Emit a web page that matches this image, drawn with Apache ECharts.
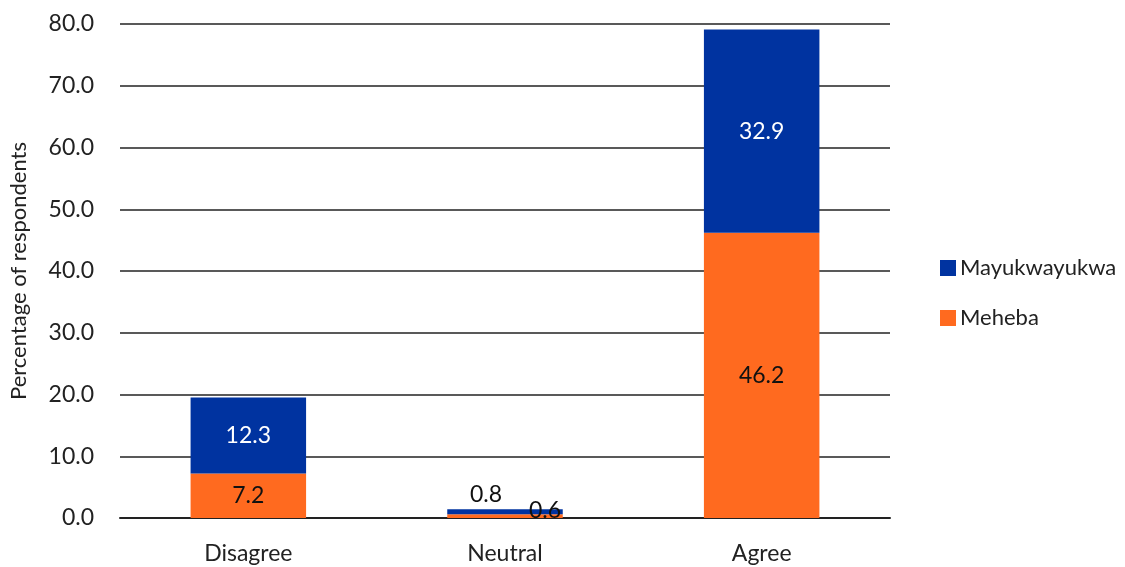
<!DOCTYPE html>
<html>
<head>
<meta charset="utf-8">
<script src="https://cdn.jsdelivr.net/npm/echarts@6/dist/echarts.min.js"></script>
<style>
  html, body { margin: 0; padding: 0; background: #fff; }
  #chart { width: 1125px; height: 567px; }
</style>
</head>
<body>
<div id="chart"></div>
<script>
// Survey responses by settlement (percentage of respondents)
const categories = ['Disagree', 'Neutral', 'Agree'];
const meheba = [7.2, 0.6, 46.2];
const mayukwayukwa = [12.3, 0.8, 32.9];
const yTicks = [0, 10, 20, 30, 40, 50, 60, 70, 80];

const FONT = 'Lato, "Open Sans", sans-serif';
const FS = 23;
const BLUE = '#0033a0';
const ORANGE = '#ff6a1f';

// Small segments get their labels moved outside the bar
const mehebaData = meheba.map(v => {
  const d = { value: v };
  if (v < 2) {
    d.label = { position: 'insideBottom', offset: [40, 9], color: '#111' };
  }
  return d;
});
const mayukData = mayukwayukwa.map(v => {
  const d = { value: v };
  if (v < 2) {
    d.label = { position: 'top', offset: [-19, 2], color: '#111' };
  }
  return d;
});

const chart = echarts.init(document.getElementById('chart'));
chart.setOption({
  animation: false,
  textStyle: { fontFamily: FONT },
  grid: { left: 120, right: 235, top: 24, bottom: 49, containLabel: false, outerBoundsMode: 'none' },
  legend: {
    orient: 'vertical',
    left: 935,
    top: 252,
    itemWidth: 16,
    itemHeight: 16,
    itemGap: 28,
    icon: 'rect',
    data: ['Mayukwayukwa', 'Meheba'],
    textStyle: { fontFamily: FONT, fontSize: 22, color: '#222', padding: [0, 0, 0, -1] }
  },
  xAxis: {
    type: 'category',
    data: categories,
    axisLine: { show: true, lineStyle: { color: '#222', width: 2 } },
    axisTick: { show: false },
    axisLabel: { fontFamily: FONT, fontSize: FS, color: '#222', margin: 24 }
  },
  yAxis: {
    type: 'value',
    min: yTicks[0],
    max: yTicks[yTicks.length - 1],
    interval: 10,
    name: 'Percentage of respondents',
    nameLocation: 'middle',
    nameGap: 90,
    nameTextStyle: { fontFamily: FONT, fontSize: 22, color: '#222' },
    axisLine: { show: false },
    axisTick: { show: false },
    axisLabel: {
      fontFamily: FONT, fontSize: FS, color: '#222', margin: 26,
      formatter: v => v.toFixed(1)
    },
    splitLine: { lineStyle: { color: '#222', width: 1.5 } }
  },
  series: [
    {
      name: 'Meheba',
      type: 'bar',
      stack: 'total',
      barWidth: '45%',
      itemStyle: { color: ORANGE },
      label: { show: true, position: 'inside', fontFamily: FONT, fontSize: FS, color: '#111',
               formatter: p => p.value.toFixed(1) },
      data: mehebaData
    },
    {
      name: 'Mayukwayukwa',
      type: 'bar',
      stack: 'total',
      barWidth: '45%',
      itemStyle: { color: BLUE },
      label: { show: true, position: 'inside', fontFamily: FONT, fontSize: FS, color: '#fff',
               formatter: p => p.value.toFixed(1) },
      data: mayukData
    }
  ]
});
</script>
</body>
</html>
